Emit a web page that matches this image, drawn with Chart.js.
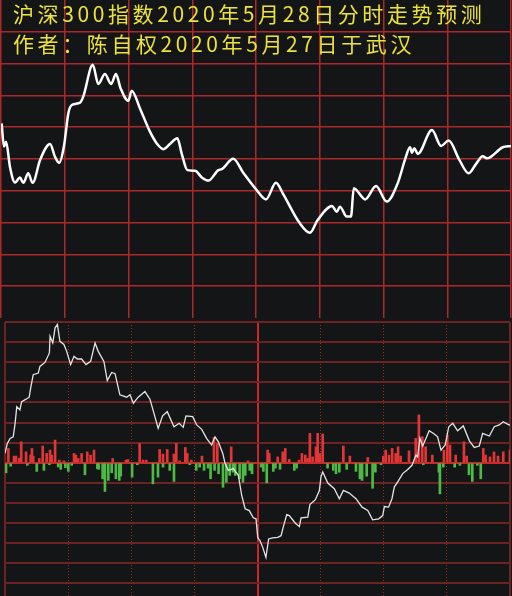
<!DOCTYPE html>
<html>
<head>
<meta charset="utf-8">
<script src="https://cdn.jsdelivr.net/npm/chart.js@4.4.0/dist/chart.umd.min.js"></script>
<style>
  html, body { margin: 0; padding: 0; background: #141517; }
  #wrap { position: relative; width: 512px; height: 596px; overflow: hidden; background: #141517; }
  #topChart { position: absolute; left: 0; top: 0; }
  #lowChart { position: absolute; left: 0; top: 318px; }
  #title {
    position: absolute; left: 13px; top: -1px; z-index: 2;
    color: #ece23c; font-family: "Noto Sans CJK SC", sans-serif;
    font-size: 21px; line-height: 29.5px; letter-spacing: 3.6px; white-space: nowrap;
  }
</style>
</head>
<body>
<div id="wrap">
  <canvas id="topChart" width="512" height="318"></canvas>
  <canvas id="lowChart" width="512" height="278"></canvas>
  <div id="title">沪深300指数2020年5月28日分时走势预测<br>作者：陈自权2020年5月27日于武汉</div>
</div>
<script>
// upper panel: forecast curve (minutes since open, level in grid units)
const topMinutes = [
  0.3, 1.4, 2.4, 4.2, 6.6, 8.9, 10.5, 12.8, 14.9, 18.4,
  23.1, 25.4, 27.4, 29.6, 31.7, 33.3, 37.2, 38.7, 43.2, 45.8,
  48.9, 51.8, 54.1, 56.3, 59.9, 61.5, 65.4, 70.1, 73.3, 76.4,
  79.5, 83.0, 85.0, 87.7, 91.3, 94.5, 97.6, 102.3, 103.9, 109.3,
  114.0, 120.0, 124.7, 129.4, 132.6, 140.4, 145.4, 149.0, 155.8, 158.0,
  159.5, 162.7, 164.7, 166.0, 171.4, 176.5, 181.5, 186.7, 190.3, 192.5,
  193.4, 194.5, 196.1, 202.8, 207.1, 210.7, 215.7, 220.1, 223.5, 226.7,
  228.6, 236.1, 240
];
const topValues = [
  6.12, 5.39, 5.54, 4.76, 4.26, 4.42, 4.25, 4.55, 4.25, 4.97,
  5.47, 5.07, 4.88, 5.39, 6.44, 6.70, 6.77, 6.96, 7.96, 7.36,
  7.67, 7.36, 7.67, 7.22, 6.83, 7.15, 6.59, 5.86, 5.49, 5.31,
  5.47, 5.65, 5.18, 4.65, 4.63, 4.42, 4.32, 4.65, 4.68, 5.01,
  4.57, 4.05, 3.73, 4.25, 3.92, 3.00, 2.68, 3.08, 3.52, 3.34,
  3.50, 3.19, 3.19, 4.08, 3.73, 4.15, 3.66, 4.24, 5.02, 5.37,
  5.20, 5.34, 5.16, 5.91, 5.41, 5.58, 4.97, 4.55, 4.84, 5.09,
  5.02, 5.37, 5.41
];

// lower panel: actual intraday line
const lowMinutes = [
  0, 1.1, 2.4, 3.9, 4.8, 5.6, 7.1, 7.9, 10.0, 11.5,
  12.2, 13.4, 15.8, 16.6, 19.0, 21.1, 21.4, 22.7, 23.8, 24.9,
  26.1, 28.0, 29.3, 31.2, 32.8, 34.4, 36.4, 38.5, 40.7, 42.8,
  44.3, 47.0, 48.6, 50.7, 52.3, 54.6, 57.8, 59.4, 61.0, 63.3,
  66.5, 68.9, 72.8, 74.9, 77.1, 80.3, 82.8, 84.7, 86.0, 89.2,
  91.1, 93.5, 95.8, 98.2, 99.8, 101.4, 103.5, 104.6, 106.1, 108.5,
  110.9, 112.5, 114.1, 116.1, 118.0, 119.3, 120.1, 121.2, 122.5, 124.0,
  125.3, 127.2, 129.6, 131.2, 132.3, 133.9, 135.1, 138.0, 139.9, 140.7,
  143.9, 144.9, 147.5, 149.4, 150.2, 151.0, 153.4, 156.5, 158.9, 160.8,
  163.6, 166.8, 169.7, 172.4, 174.7, 177.6, 179.5, 180.3, 182.3, 183.9,
  185.0, 187.1, 189.0, 191.4, 193.4, 195.3, 196.1, 197.2, 198.5, 200.4,
  201.6, 204.0, 205.6, 207.2, 209.2, 210.9, 212.8, 215.1, 217.8, 220.7,
  223.0, 225.4, 227.0, 230.2, 232.5, 234.9, 236.8, 239.4, 240
];
const lowValues = [
  0.46, 0.96, 1.21, 1.29, 1.96, 2.79, 2.63, 3.04, 3.16, 3.26,
  3.71, 4.38, 4.46, 4.79, 4.99, 5.46, 6.29, 5.96, 6.71, 6.88,
  6.04, 5.88, 5.54, 4.88, 5.29, 5.16, 5.16, 4.88, 5.04, 5.96,
  5.54, 5.04, 4.09, 4.49, 4.43, 3.38, 3.26, 3.38, 2.96, 3.26,
  3.54, 3.16, 1.71, 2.33, 2.54, 1.79, 1.96, 1.76, 2.33, 2.29,
  1.88, 1.66, 1.21, 0.88, 1.29, 1.04, 0.46, -0.04, -0.38, -0.29,
  -0.63, -1.63, -2.29, -2.38, -2.74, -2.79, -3.71, -3.88, -4.21, -4.71,
  -3.79, -3.74, -3.71, -3.63, -3.18, -2.58, -2.63, -3.01, -3.18, -2.74,
  -2.71, -2.08, -1.84, -1.38, -0.68, -0.46, -1.01, -1.29, -1.79, -1.38,
  -1.51, -1.79, -2.21, -2.38, -2.84, -2.79, -2.63, -2.18, -2.21, -1.79,
  -1.21, -0.88, -0.54, -0.34, -0.13, 0.38, 0.29, 1.21, 0.83, 1.29,
  1.59, 1.43, 1.29, 0.63, 0.88, 1.79, 1.96, 1.59, 1.83, 1.09,
  0.76, 0.83, 1.46, 1.33, 1.79, 1.88, 2.04, 1.88, 1.88
];

// lower panel: red (up) and green (down) bars
const upMinutes = [
  1.6, 4.3, 5.2, 6.8, 7.7, 10.0, 12.2, 12.8, 13.4, 16.3,
  17.9, 19.8, 21.4, 22.2, 23.8, 25.8, 28.0, 32.8, 33.7, 34.8,
  36.4, 39.1, 40.7, 42.3, 51.2, 57.5, 58.4, 64.0, 65.6, 67.1,
  73.5, 75.1, 77.1, 80.3, 81.4, 83.0, 85.7, 86.6, 88.5, 93.6,
  99.3, 100.9, 107.5, 115.5, 124.8, 125.6, 129.6, 132.0, 133.2, 135.1,
  139.7, 141.1, 142.7, 143.8, 144.9, 146.2, 147.8, 148.6, 149.7, 151.0,
  160.8, 163.9, 172.4, 179.8, 180.9, 182.5, 184.0, 185.7, 186.8, 188.0,
  192.0, 195.2, 196.7, 198.3, 199.9, 203.1, 208.6, 210.2, 211.5, 214.2,
  218.1, 219.4, 227.3, 228.4, 230.5, 232.4, 234.3, 236.8, 240.0
];
const upVolumes = [
  0.71, 0.33, 0.33, 0.23, 1.04, 0.54, 0.38, 0.71, 0.33, 0.21,
  0.83, 0.46, 0.63, 0.38, 1.13, 0.13, 0.09, 0.46, 0.38, 0.21,
  0.46, 0.54, 0.38, 0.63, 0.21, 0.13, 0.16, 0.96, 0.13, 0.13,
  0.66, 0.43, 0.66, 0.43, 0.96, 0.09, 0.76, 0.46, 0.13, 0.33,
  1.26, 0.96, 0.79, 0.09, 0.63, 0.46, 0.29, 0.54, 0.71, 0.16,
  0.13, 0.46, 0.38, 0.21, 1.46, 0.29, 0.79, 1.46, 0.46, 1.43,
  0.83, 0.33, 0.26, 0.33, 0.63, 0.38, 0.71, 0.46, 0.79, 0.33,
  0.59, 1.21, 2.38, 1.29, 0.79, 0.38, 0.63, 1.38, 0.88, 0.38,
  1.04, 0.33, 0.71, 0.38, 0.29, 0.54, 0.33, 0.54, 0.63
];
const downMinutes = [
  0.5, 2.7, 10.6, 15.1, 18.5, 21.1, 25.3, 26.5, 28.7, 30.1,
  31.7, 38.0, 43.9, 44.5, 46.4, 47.5, 49.1, 50.7, 52.7, 54.3,
  55.0, 60.4, 62.9, 70.3, 72.7, 75.1, 78.3, 80.3, 87.8, 90.9,
  92.5, 94.6, 96.5, 97.7, 99.6, 101.5, 103.6, 105.2, 106.8, 108.3,
  109.4, 111.5, 113.1, 114.2, 116.3, 117.4, 121.7, 122.8, 124.4, 127.5,
  128.5, 130.7, 137.5, 138.6, 153.3, 156.0, 157.3, 158.9, 162.4, 166.8,
  168.7, 169.7, 171.9, 174.7, 176.0, 178.7, 198.8, 206.2, 206.7, 208.3,
  213.7, 216.2, 220.5, 222.1, 224.5, 226.1
];
const downVolumes = [
  -0.5, -0.17, -0.13, -0.43, -0.38, -0.1, -0.21, -0.33, -0.25, -0.43,
  -0.13, -0.6, -0.3, -0.33, -0.8, -1.43, -0.88, -0.5, -0.8, -0.88,
  -0.67, -0.72, -0.1, -1.05, -0.72, -0.22, -0.38, -0.93, -0.1, -0.38,
  -0.22, -0.38, -0.27, -0.8, -0.38, -0.55, -1.22, -0.97, -0.63, -0.47,
  -0.63, -0.8, -0.97, -0.63, -0.38, -0.55, -0.22, -0.43, -1.0, -0.43,
  -0.27, -0.33, -0.38, -0.27, -0.27, -0.38, -0.55, -0.47, -0.33, -0.43,
  -0.8, -0.88, -0.67, -1.27, -0.47, -0.1, -0.1, -0.47, -1.55, -0.22,
  -0.22, -0.13, -0.6, -0.93, -0.13, -0.8
];

// grid positions
const topTimeTicks = [0, 30, 60, 90, 120, 150, 180, 210, 240];
const topLevelTicks = [1, 2, 3, 4, 5, 6, 7, 8, 9];
const lowBorderTicks = [0, 120, 240];
const lowDottedTicks = [30, 60, 90, 150, 180, 210];
const lowLevelTicks = [-6, -5, -4, -3, -2, -1, 0, 1, 2, 3, 4, 5, 6, 7];

const TOP_GRID = '#ad2828';
const LOW_GRID = '#6e2323';

function pairs(xs, ys) {
  return xs.map((x, i) => ({ x: x, y: ys[i] }));
}

function useTicks(list) {
  return function (axis) {
    axis.ticks = list.map(v => ({ value: v }));
  };
}

function gridScale(opts) {
  return Object.assign({
    type: 'linear',
    offset: false,
    ticks: { display: false },
    border: { display: false },
  }, opts);
}

new Chart(document.getElementById('topChart'), {
  type: 'line',
  data: {
    datasets: [{
      data: pairs(topMinutes, topValues),
      borderColor: '#ffffff',
      borderWidth: 2.5,
      pointRadius: 0,
      cubicInterpolationMode: 'monotone'
    }]
  },
  options: {
    responsive: false,
    animation: false,
    events: [],
    layout: { padding: { left: 1, right: 1, top: 0, bottom: 0 } },
    plugins: { legend: { display: false }, tooltip: { enabled: false } },
    scales: {
      x: gridScale({
        min: 0, max: 240,
        afterBuildTicks: useTicks(topTimeTicks),
        grid: { color: TOP_GRID, lineWidth: 1.5, drawTicks: false }
      }),
      y: gridScale({
        min: 0, max: 10,
        afterBuildTicks: useTicks(topLevelTicks),
        grid: { color: TOP_GRID, lineWidth: 1.5, drawTicks: false }
      })
    }
  }
});

new Chart(document.getElementById('lowChart'), {
  type: 'bar',
  data: {
    datasets: [
      {
        type: 'line',
        data: pairs(lowMinutes, lowValues),
        borderColor: '#e4e4e4',
        borderWidth: 1.3,
        pointRadius: 0,
        tension: 0,
        order: 0
      },
      {
        data: pairs(upMinutes, upVolumes),
        backgroundColor: '#e23636',
        barThickness: 2,
        grouped: false,
        order: 1
      },
      {
        data: pairs(downMinutes, downVolumes),
        backgroundColor: '#4cbb44',
        barThickness: 2,
        grouped: false,
        order: 1
      }
    ]
  },
  options: {
    responsive: false,
    animation: false,
    events: [],
    layout: { padding: { left: 5, right: 2, top: 4, bottom: 0 } },
    plugins: { legend: { display: false }, tooltip: { enabled: false } },
    scales: {
      x: gridScale({
        min: 0, max: 240,
        afterBuildTicks: useTicks(lowBorderTicks),
        grid: {
          offset: false, drawTicks: false, lineWidth: 2,
          color: c => c.tick && c.tick.value === 120 ? '#cc2626' : LOW_GRID
        }
      }),
      x2: gridScale({
        position: 'top',
        min: 0, max: 240,
        afterBuildTicks: useTicks(lowDottedTicks),
        border: { display: false, dash: [1, 2] },
        grid: { offset: false, color: '#9c2b2b', lineWidth: 1, drawTicks: false, borderDash: [1, 2] }
      }),
      y: gridScale({
        min: -6.63, max: 7,
        afterBuildTicks: useTicks(lowLevelTicks),
        grid: {
          drawTicks: false, lineWidth: 2,
          color: c => c.tick && c.tick.value === 0 ? '#c82a2a' : LOW_GRID
        }
      })
    }
  }
});
</script>
</body>
</html>
